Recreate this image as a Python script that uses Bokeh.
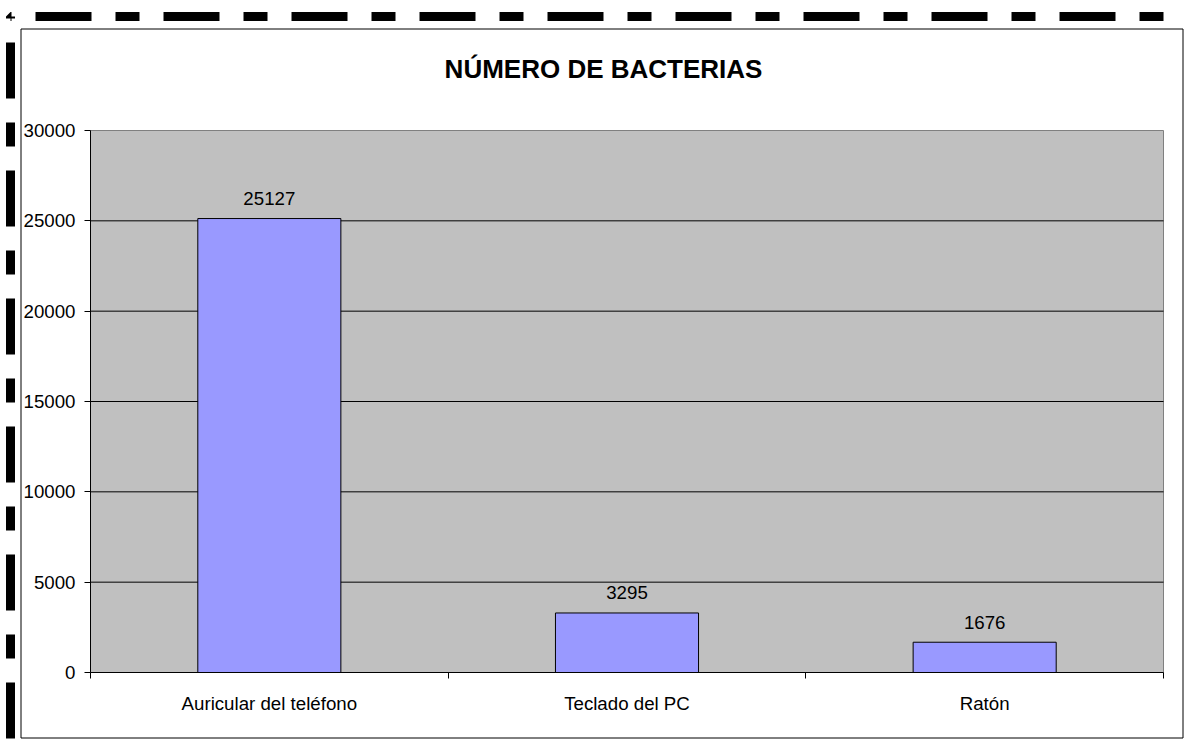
from bokeh.plotting import figure
from bokeh.models import (Range1d, FixedTicker, ColumnDataSource, LabelSet, Label,
                          BoxAnnotation, LinearAxis)
from bokeh.core.properties import value
from bokeh.embed import file_html
from bokeh.resources import INLINE

# ---- data ----
title_text = "NÚMERO DE BACTERIAS"
categories = ["Auricular del teléfono", "Teclado del PC", "Ratón"]
values = [25127, 3295, 1676]
y_ticks = [0, 5000, 10000, 15000, 20000, 25000, 30000]
y_max = 30000

FONT = "Liberation Sans"
FS = "18.7px"

# ---- layout (pixels on the canvas) ----
W, H = 1184, 745
PL, PR, PT, PB = 90, 1163, 130, 672   # plot area edges

n = len(categories)
kx = (PR - PL) / n
ky = (PB - PT) / y_max
x_range = Range1d(-PL / kx, n + (W - PR) / kx)
y_range = Range1d(-(H - PB) / ky, y_max + PT / ky)

x_pos = [i + 0.5 for i in range(n)]
src = ColumnDataSource(dict(x=x_pos, top=values, label=[str(v) for v in values]))

p = figure(width=W, height=H, output_backend="svg", toolbar_location=None,
           x_range=x_range, y_range=y_range,
           x_axis_location=None, y_axis_location=None, min_border=0)
p.min_border_left = p.min_border_right = p.min_border_top = p.min_border_bottom = 0
p.background_fill_color = "white"
p.border_fill_color = "white"
p.outline_line_color = None
p.grid.visible = False

# plot area
p.quad(left=[0], right=[n], bottom=[0], top=[y_max],
       fill_color="#C0C0C0", line_color="#808080", line_width=1)
grid_y = y_ticks[1:-1]
p.segment(x0=[0] * len(grid_y), x1=[n] * len(grid_y), y0=grid_y, y1=grid_y,
          line_color="black", line_width=1)

p.vbar(x="x", top="top", width=0.4, bottom=0, source=src,
       fill_color="#9999FF", line_color="black", line_width=1)

p.add_layout(LabelSet(x="x", y="top", text="label", source=src,
                      text_align="center", text_baseline="middle", y_offset=20,
                      text_font=value(FONT), text_font_size=value(FS),
                      text_color="black"))

# y axis
yaxis = LinearAxis(fixed_location=0, bounds=(0, y_max), ticker=FixedTicker(ticks=y_ticks))
yaxis.axis_line_color = "black"
yaxis.major_tick_line_color = "black"
yaxis.major_tick_out = 6
yaxis.major_tick_in = 0
yaxis.minor_tick_line_color = None
yaxis.major_label_standoff = 9
yaxis.major_label_text_font = FONT
yaxis.major_label_text_font_size = FS
yaxis.major_label_text_color = "black"
p.add_layout(yaxis, "left")

# x axis: labels at centres, ticks at boundaries
xaxis = LinearAxis(fixed_location=0, bounds=(0, n),
                   ticker=FixedTicker(ticks=x_pos, minor_ticks=list(range(n + 1))))
xaxis.major_label_overrides = {x: c for x, c in zip(x_pos, categories)}
xaxis.major_tick_out = 0
xaxis.major_tick_in = 0
xaxis.minor_tick_out = 6
xaxis.minor_tick_in = 0
xaxis.minor_tick_line_color = "black"
xaxis.axis_line_color = "black"
xaxis.major_label_standoff = 14
xaxis.major_label_text_font = FONT
xaxis.major_label_text_font_size = FS
xaxis.major_label_text_color = "black"
p.add_layout(xaxis, "below")

# title
p.add_layout(Label(x=603, y=68, x_units="canvas", y_units="canvas", text=title_text,
                   text_align="center", text_baseline="middle",
                   text_font=FONT, text_font_size="26px", text_font_style="bold",
                   text_color="black"))

# chart area frame and dashed outer border
p.add_layout(BoxAnnotation(left=20.5, right=1182.5, top=28.5, bottom=737.5,
                           left_units="canvas", right_units="canvas",
                           top_units="canvas", bottom_units="canvas",
                           fill_alpha=0, line_color="black", line_alpha=1,
                           line_width=1))
p.add_layout(BoxAnnotation(left=10, right=1250.5, top=16, bottom=749,
                           left_units="canvas", right_units="canvas",
                           top_units="canvas", bottom_units="canvas",
                           fill_alpha=0, line_color="black", line_alpha=1,
                           line_width=9, line_dash="56 24 24 24",
                           line_dash_offset=103))

open("out.html", "w").write(file_html(p, INLINE))
